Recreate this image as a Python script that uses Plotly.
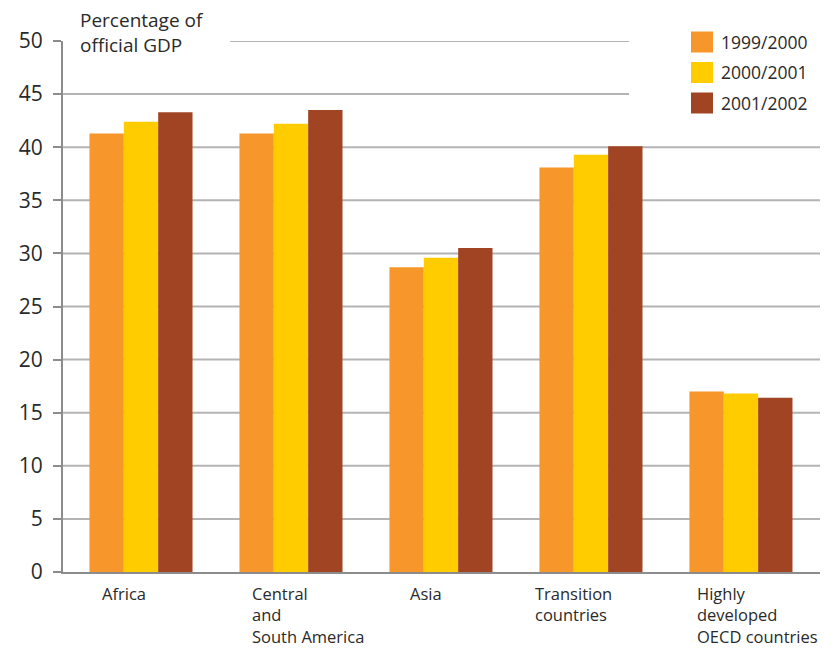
import plotly.graph_objects as go

categories = ["Africa", "Central<br>and<br>South America", "Asia", "Transition<br>countries",
              "Highly<br>developed<br>OECD countries"]
series_names = ["1999/2000", "2000/2001", "2001/2002"]
values_1999 = [41.3, 41.3, 28.7, 38.1, 17.0]
values_2000 = [42.4, 42.2, 29.6, 39.3, 16.8]
values_2001 = [43.3, 43.5, 30.5, 40.1, 16.4]
y_ticks = [0, 5, 10, 15, 20, 25, 30, 35, 40, 45, 50]
y_title = "Percentage of<br>official GDP"

colors = ["#F7962A", "#FFCC00", "#A04424"]
series = [values_1999, values_2000, values_2001]

W, H = 838, 650
L, R, T, B = 63, 18, 41, 78
PW, PH = W - L - R, H - T - B


def px_x(px):
    return (px - L) / PW


def px_y(py):
    return (H - B - py) / PH


FONT = "Open Sans"
TXT = "#2a2a2a"
xs = list(range(len(categories)))

fig = go.Figure()
for name, vals, c in zip(series_names, series, colors):
    fig.add_trace(go.Bar(x=xs, y=vals, name=name, marker=dict(color=c, line=dict(width=0)),
                         showlegend=False))

shapes = []
grid_color = "#B4B4B6"
for v in y_ticks[1:]:
    if v == 50:
        x0, x1 = px_x(230), px_x(629)
    elif v == 45:
        x0, x1 = 0, px_x(629)
    else:
        x0, x1 = 0, 1
    shapes.append(dict(type="line", xref="paper", yref="y", x0=x0, x1=x1, y0=v, y1=v,
                       line=dict(color=grid_color, width=2), layer="below"))

annotations = []
# axis title
annotations.append(dict(text=y_title, xref="paper", yref="paper", x=px_x(78), y=px_y(5),
                        xanchor="left", yanchor="top", align="left", showarrow=False,
                        font=dict(family=FONT, size=19, color=TXT)))
# category labels
label_shift = [-41, -41, -33, -58, -46]
for i, (cat, sh) in enumerate(zip(categories, label_shift)):
    annotations.append(dict(text=cat, xref="x", yref="paper", x=i, y=0, xshift=sh, yshift=-8,
                            xanchor="left", yanchor="top", align="left", showarrow=False,
                            font=dict(family=FONT, size=16.5, color=TXT)))
# manual legend
for k, (name, c) in enumerate(zip(series_names, colors)):
    cy = 42 + 30.5 * k
    shapes.append(dict(type="rect", xref="paper", yref="paper",
                       x0=px_x(691), x1=px_x(713), y0=px_y(cy - 10.5), y1=px_y(cy + 10.5),
                       fillcolor=c, line=dict(width=0)))
    annotations.append(dict(text=name, xref="paper", yref="paper", x=px_x(719), y=px_y(cy),
                            xanchor="left", yanchor="middle", showarrow=False,
                            font=dict(family=FONT, size=17.5, color=TXT)))

fig.update_layout(
    width=W, height=H,
    margin=dict(l=L, r=R, t=T, b=B, pad=0),
    paper_bgcolor="white", plot_bgcolor="white",
    barmode="group", bargap=0.313, bargroupgap=0,
    shapes=shapes, annotations=annotations,
    showlegend=False,
    xaxis=dict(range=[-0.52, 4.527], showgrid=False, zeroline=False, showticklabels=False,
               ticks="", showline=True, linecolor="#8C8C8E", linewidth=2, fixedrange=True),
    yaxis=dict(range=[0, 50], tickvals=y_ticks, showgrid=False, zeroline=False,
               showline=True, linecolor="#8C8C8E", linewidth=2,
               ticks="outside", ticklen=8, tickwidth=2, tickcolor="#8C8C8E",
               ticklabelstandoff=6,
               tickfont=dict(family=FONT, size=21, color=TXT)),
)

fig.write_html("out.html")
